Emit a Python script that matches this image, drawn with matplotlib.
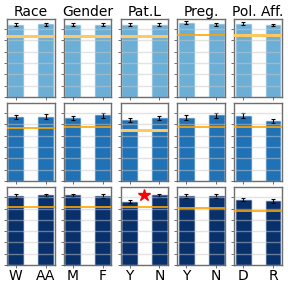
import matplotlib
matplotlib.use("Agg")
import matplotlib.pyplot as plt
import matplotlib.colors as mcolors

titles = ["Race", "Gender", "Pat.L", "Preg.", "Pol. Aff."]
tick_labels = [["W", "AA"], ["M", "F"], ["Y", "N"], ["Y", "N"], ["D", "R"]]

# bar heights per row (one pair per group)
row0 = [[0.640, 0.643], [0.640, 0.640], [0.640, 0.640], [0.658, 0.643], [0.649, 0.638]]
row1 = [[0.566, 0.569], [0.557, 0.580], [0.542, 0.557], [0.562, 0.580], [0.578, 0.530]]
row2 = [[0.612, 0.618], [0.618, 0.612], [0.562, 0.618], [0.612, 0.612], [0.580, 0.567]]
errs = [0.012, 0.020, 0.014]

# reference (orange) line per panel
ref0 = [0.538, 0.538, 0.538, 0.552, 0.549]
ref1 = [0.468, 0.480, 0.455, 0.476, 0.476]
ref2 = [0.518, 0.518, 0.518, 0.508, 0.476]
# panels where the reference is drawn as a pale band
band0 = [True, True, True, False, True]
band1 = [False, False, True, False, False]
band2 = [False, False, False, False, False]

star_row, star_col, star_y = 2, 2, 0.621

rows = [row0, row1, row2]
refs = [ref0, ref1, ref2]
bands = [band0, band1, band2]
colors = ["#6baed6", "#2171b5", "#08306b"]

fig, axes = plt.subplots(3, 5, figsize=(2.88, 2.88), dpi=100)
fig.subplots_adjust(left=0.024, right=0.979, top=0.934, bottom=0.08,
                    wspace=0.19, hspace=0.08)

for r in range(3):
    for c in range(5):
        ax = axes[r, c]
        col = colors[r]
        edge = mcolors.to_rgba(col, 0.45)
        ax.bar([0, 1], rows[r][c], width=0.5, color=col, edgecolor=edge,
               linewidth=1.0, yerr=errs[r], capsize=1.5,
               error_kw=dict(ecolor="black", elinewidth=0.8, capthick=0.8),
               zorder=1)
        if bands[r][c]:
            ax.axhline(refs[r][c], color="#ffc860", lw=2.2, zorder=3)
        else:
            ax.axhline(refs[r][c], color="orange", lw=1.2, zorder=3)
        if r == star_row and c == star_col:
            ax.plot(0.5, star_y, marker="*", color="red", markersize=9,
                    zorder=4, clip_on=False)
        ax.set_xlim(-0.3, 1.3)
        ax.set_ylim(0, 0.69)
        ax.set_yticks([0, 0.1, 0.2, 0.3, 0.4, 0.5, 0.6])
        ax.set_xticks([0, 1])
        ax.grid(axis="y", color="#c8c8c8", lw=1, alpha=0.5, zorder=2)
        ax.set_axisbelow(False)
        ax.tick_params(axis="both", length=2, width=0.6, color="#555555",
                       labelleft=False, pad=1, labelsize=10)
        if r == 2:
            ax.set_xticklabels(tick_labels[c])
        else:
            ax.set_xticklabels([])
        for s in ax.spines.values():
            s.set_color("#6e6e6e")
            s.set_linewidth(1.0)
        if r == 0:
            ax.set_title(titles[c], fontsize=10, pad=2)

fig.savefig("out.png", dpi=100)
